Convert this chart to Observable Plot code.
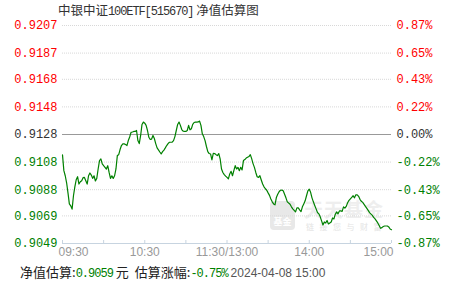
<!DOCTYPE html>
<html>
<head>
<meta charset="utf-8">
<script src="https://cdn.jsdelivr.net/npm/d3@7"></script>
<script src="https://cdn.jsdelivr.net/npm/@observablehq/plot@0.6"></script>
<style>
  html, body { margin: 0; padding: 0; background: #fff; }
  #wrap { position: relative; width: 451px; height: 281px; overflow: hidden; }
  #title { height: 22px; line-height: 22px; padding-left: 58px; font: 12.5px "Noto Sans CJK SC", sans-serif; color: #333; white-space: nowrap; }
  #title .lat { font: 12px "Liberation Mono", monospace; letter-spacing: -1.1px; }
  #chart { position: relative; z-index: 1; height: 240px; }
  #chart svg { background: transparent; }
  #wm { position: absolute; left: 0; top: 0; z-index: 0; }
  #wm .box { position: absolute; left: 270px; top: 201px; width: 25px; height: 29px; border-radius: 4px; background: #e8e8e8; color: #fff; font: bold 9px "Noto Sans CJK SC", sans-serif; text-align: center; line-height: 12px; padding-top: 15px; box-sizing: border-box; }
  #wm .big { position: absolute; left: 304px; top: 199px; font: bold 19px "Noto Sans CJK SC", sans-serif; line-height: 20px; color: #eeeeee; letter-spacing: 1px; white-space: nowrap; }
  #wm .small { position: absolute; left: 306px; top: 222px; font: 8px "Noto Sans CJK SC", sans-serif; line-height: 9px; color: #e4e4e4; letter-spacing: 5.5px; white-space: nowrap; }
  #footer { height: 19px; line-height: 19px; padding-left: 20px; font: 13px "Noto Sans CJK SC", sans-serif; color: #222; white-space: nowrap; }
  #footer .num { font: 12px "Liberation Mono", monospace; letter-spacing: -1px; color: #008000; }
  #footer .gap { margin: 0 3px; }
  #footer .date { font: 12px "Liberation Sans", Arial, sans-serif; color: #555; margin-left: 3px; }
</style>
</head>
<body>
<div id="wrap">
  <div id="title"></div>
  <div id="wm"><div class="box">基金</div><div class="big">天天基金</div><div class="small">链接您与财富</div></div>
  <div id="chart"></div>
  <div id="footer"></div>
</div>
<script>
// ---- data ----
const titleName = "中银中证";
const titleCode = "100ETF[515670]";
const titleTail = " 净值估算图";
const baseNav = 0.9128;
const yTickValues = [0.9207, 0.9187, 0.9168, 0.9148, 0.9128, 0.9108, 0.9088, 0.9069, 0.9049];
const pctLabels = ["0.87%", "0.65%", "0.43%", "0.22%", "0.00%", "-0.22%", "-0.43%", "-0.65%", "-0.87%"];
const xTickMinutes = [0, 30, 60, 90, 120, 150, 180, 210, 240];
const xLabelMinutes = [0, 60, 120, 180, 240];
const xLabelTexts = ["09:30", "10:30", "11:30/13:00", "14:00", "15:00"];

// minutes after 09:30 (trading minutes; 120 = 11:30/13:00)
const minutes = [
  0,1,2,3,4,5,6,7,8,9,10,11,12,13,14,15,16,17,18,19,20,21,22,23,24,25,26,27,28,29,
  30,31,32,33,34,35,36,37,38,39,40,41,42,43,44,45,46,47,48,49,50,51,52,53,54,55,56,57,58,59,
  60,61,62,63,64,65,66,67,68,69,70,71,72,73,74,75,76,77,78,79,80,81,82,83,84,85,86,87,88,89,
  90,91,92,93,94,95,96,97,98,99,100,101,102,103,104,105,106,107,108,109,110,111,112,113,114,115,116,117,118,119,120,
  121,122,123,124,125,126,127,128,129,130,131,132,133,134,
  136,137,138,139,140,141,142,143,144,145,146,147,148,149,150,151,152,153,154,155,156,157,158,159,160,161,162,163,164,
  166,167,168,169,170,171,172,173,174,175,176,177,178,179,180,181,182,183,184,185,186,187,188,189,190,191,192,193,194,
  196,197,198,199,200,201,202,203,204,205,206,207,208,209,210,211,212,213,214,215,216,217,218,219,220,221,222,223,224,
  226,227,228,229,230,231,232,233,234,235,236,237,238,239,240
];
const navValues = [
  0.91132,0.91018,0.90981,0.90930,0.90857,0.90777,0.90763,0.90739,0.90836,0.90901,
  0.90952,0.90974,0.90921,0.90938,0.90945,0.90967,0.90969,0.90945,0.90921,0.90981,
  0.91001,0.90986,0.90962,0.90981,0.90943,0.90962,0.91030,0.91091,0.91103,0.91067,
  0.91054,0.91042,0.91030,0.91054,0.91005,0.90962,0.90981,0.90962,0.90981,0.91030,
  0.91127,0.91134,0.91171,0.91200,0.91212,0.91212,0.91207,0.91200,0.91236,0.91262,
  0.91295,0.91298,0.91302,0.91302,0.91309,0.91236,0.91214,0.91273,0.91353,0.91370,
  0.91362,0.91346,0.91309,0.91260,0.91244,0.91247,0.91273,0.91251,0.91214,0.91183,
  0.91169,0.91153,0.91139,0.91156,0.91167,0.91183,0.91200,0.91214,0.91224,0.91224,
  0.91224,0.91236,0.91265,0.91309,0.91353,0.91370,0.91346,0.91316,0.91304,0.91302,
  0.91302,0.91309,0.91346,0.91314,0.91322,0.91353,0.91367,0.91370,0.91370,0.91371,
  0.91377,0.91346,0.91285,0.91265,0.91236,0.91193,0.91156,0.91142,0.91139,0.91096,
  0.91144,0.91142,0.91134,0.91127,0.91142,0.91103,0.91030,0.91005,0.90989,0.90978,
  0.90969,
  0.90959,0.90994,0.91013,0.90981,0.91018,0.91054,0.91030,0.91042,0.91018,0.91042,
  0.91023,0.91091,0.91098,0.91109,0.91120,0.91134,0.91105,0.91069,0.91042,0.91005,
  0.90974,0.90969,0.90981,0.90950,0.90921,0.90901,0.90887,0.90876,0.90857,0.90839,
  0.90812,0.90792,0.90777,0.90770,0.90823,0.90847,0.90865,0.90876,0.90877,0.90872,
  0.90847,0.90821,0.90792,0.90774,0.90756,0.90741,0.90730,0.90719,0.90748,0.90748,
  0.90734,0.90721,0.90756,0.90777,0.90799,0.90836,0.90872,0.90884,0.90861,0.90821,
  0.90792,0.90766,0.90741,0.90715,0.90705,0.90683,0.90654,0.90624,0.90646,0.90639,
  0.90657,0.90632,0.90646,0.90675,0.90668,0.90702,0.90719,0.90705,0.90726,0.90726,
  0.90723,0.90756,0.90746,0.90759,0.90785,0.90803,0.90814,0.90825,0.90836,0.90821,
  0.90843,0.90843,0.90832,0.90810,0.90796,0.90788,0.90774,0.90759,0.90745,0.90730,
  0.90714,0.90694,0.90679,0.90668,0.90654,0.90639,0.90621,0.90600,0.90605,0.90613,
  0.90617,0.90617,0.90617,0.90610,0.90595,0.90590
];
const footerNav = "0.9059";
const footerPct = "-0.75%";
const footerTime = "2024-04-08 15:00";

// ---- build ----
document.getElementById("title").innerHTML =
  titleName + '<span class="lat">' + titleCode + '</span>' + titleTail;
document.getElementById("footer").innerHTML =
  '净值估算:<span class="num">' + footerNav + '</span><span class="gap">元</span> 估算涨幅:<span class="num">' + footerPct +
  '</span><span class="date">' + footerTime + '</span>';

const series = minutes.map((m, i) => ({m, v: navValues[i]}));
const ticks = yTickValues.map((v, i) => ({v, pct: pctLabels[i]}));
const colorOf = d => d.v > baseNav ? "#ff0000" : d.v < baseNav ? "#008000" : "#333333";
const xLabels = xLabelMinutes.map((m, i) => ({m, t: xLabelTexts[i]}));
const numFont = "'Liberation Mono', monospace";
const yMin = yTickValues[yTickValues.length - 1];
const yMax = yTickValues[0];

const chart = Plot.plot({
  width: 451,
  height: 240,
  marginTop: 3,
  marginBottom: 19,
  marginLeft: 62,
  marginRight: 60,
  x: {domain: [0, 240], axis: null},
  y: {domain: [yMin, yMax], axis: null},
  style: {background: "transparent", overflow: "visible"},
  marks: [
    Plot.ruleY(ticks.filter(d => d.v !== baseNav && d.v !== yMin), {y: "v", stroke: "#d8d8d8", strokeDasharray: "1,1"}),
    Plot.ruleY([baseNav], {stroke: "#999999", strokeWidth: 1}),
    Plot.ruleY([yMin], {stroke: "#c7d4e0", strokeWidth: 1}),
    Plot.ruleX(xTickMinutes, {x: d => d, stroke: "#c7d4e0", insetTop: 215}),
    Plot.line(series, {x: "m", y: "v", stroke: "#008000", strokeWidth: 1.2}),
    Plot.text(ticks, {frameAnchor: "left", y: "v", text: d => d.v.toFixed(4), dx: -5, textAnchor: "end", fill: colorOf, fontFamily: numFont, fontSize: 12, letterSpacing: "-1px"}),
    Plot.text(ticks, {frameAnchor: "right", y: "v", text: "pct", dx: 5, textAnchor: "start", fill: colorOf, fontFamily: numFont, fontSize: 12, letterSpacing: "-1px"}),
    Plot.text(xLabels.slice(0, 1), {x: "m", frameAnchor: "bottom", text: "t", dy: 12, dx: -4, textAnchor: "start", fill: "#999", fontFamily: "'Liberation Sans', Arial, sans-serif", fontSize: 12}),
    Plot.text(xLabels.slice(1, -1), {x: "m", frameAnchor: "bottom", text: "t", dy: 12, textAnchor: "middle", fill: "#999", fontFamily: "'Liberation Sans', Arial, sans-serif", fontSize: 12}),
    Plot.text(xLabels.slice(-1), {x: "m", frameAnchor: "bottom", text: "t", dy: 12, dx: 2, textAnchor: "end", fill: "#999", fontFamily: "'Liberation Sans', Arial, sans-serif", fontSize: 12})
  ]
});
document.getElementById("chart").appendChild(chart);
</script>
</body>
</html>
